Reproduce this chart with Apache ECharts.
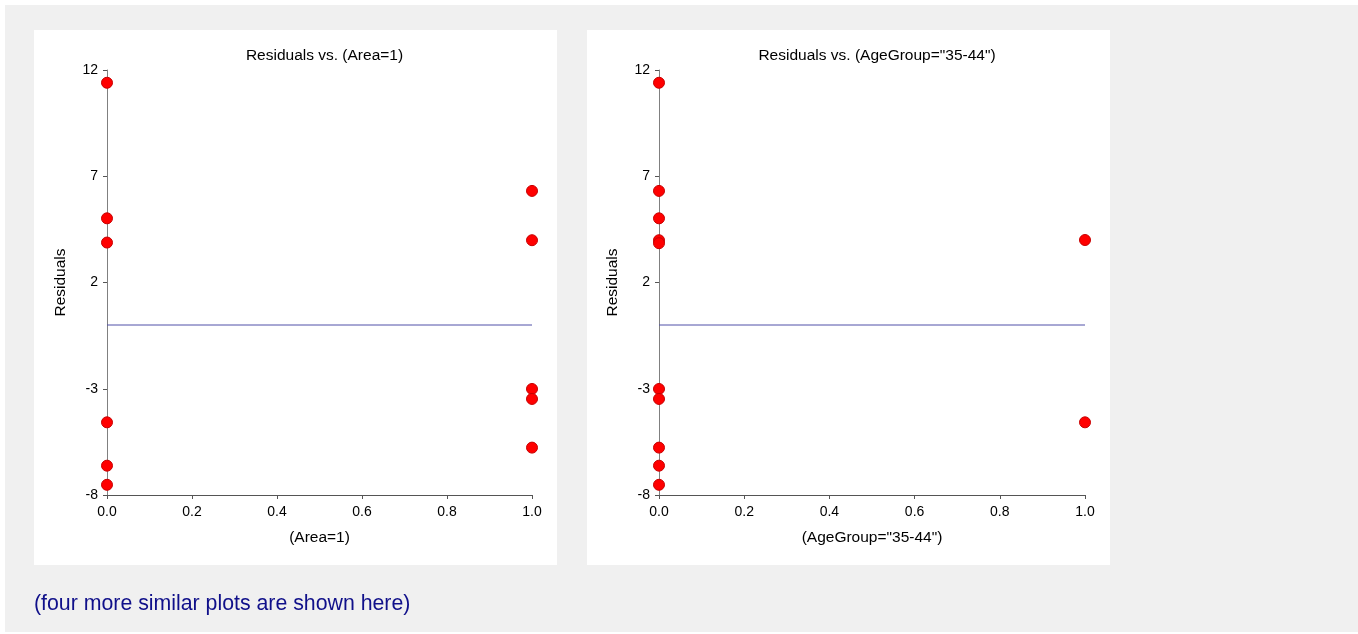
<!DOCTYPE html>
<html>
<head>
<meta charset="utf-8">
<script src="https://cdn.jsdelivr.net/npm/echarts@6/dist/echarts.min.js"></script>
<style>
html,body{margin:0;padding:0;background:#fff;}
#c{width:1358px;height:634px;}
</style>
</head>
<body>
<div id="c"></div>
<script>
// Data
var titles = ['Residuals vs. (Area=1)', 'Residuals vs. (AgeGroup="35-44")'];
var xNames = ['(Area=1)', '(AgeGroup="35-44")'];
var yTicks = [-8, -3, 2, 7, 12];
var area1X = [0, 0, 0, 0, 0, 0, 1, 1, 1, 1, 1];
var area1Y = [11.40, 5.02, 3.88, -4.58, -6.62, -7.52, 6.31, 3.99, -3.01, -3.48, -5.77];
var ageX = [0, 0, 0, 0, 0, 0, 0, 0, 0, 0, 1, 1];
var ageY = [11.40, 6.31, 5.02, 3.99, 3.85, -3.01, -3.48, -5.77, -6.62, -7.52, 4.00, -4.58];
var refX = [0, 1];
var refY = [0, 0];
var note = '(four more similar plots are shown here)';

function pairs(xs, ys){ return xs.map(function(x,i){return [x, ys[i]];}); }

var font = 'Liberation Sans, Arial, sans-serif';
var grids = [
  {left:107, top:70, width:425, height:425},
  {left:659, top:70, width:426, height:425}
];
var xAxes = [], yAxes = [], series = [], titleOpts = [];
var sets = [[area1X, area1Y], [ageX, ageY]];
for (var g = 0; g < 2; g++) {
  xAxes.push({
    type:'value', gridIndex:g, min:0, max:1, interval:0.2,
    name:xNames[g], nameLocation:'middle', nameGap:35,
    nameTextStyle:{color:'#000', fontSize:15.5, fontFamily:font},
    axisLine:{show:true, onZero:false, lineStyle:{color:'#555', width:1}},
    axisTick:{show:true, length:4, lineStyle:{color:'#555'}},
    axisLabel:{color:'#000', fontSize:14, fontFamily:font, margin:10, formatter:function(v){return v.toFixed(1);}},
    splitLine:{show:false}
  });
  yAxes.push({
    type:'value', gridIndex:g, min:-8, max:12,
    name:'Residuals', nameLocation:'middle', nameGap:38, nameRotate:90,
    nameTextStyle:{color:'#000', fontSize:15.5, fontFamily:font},
    axisLine:{show:true, onZero:false, lineStyle:{color:'#808080', width:1}},
    axisTick:{show:true, length:4, customValues:yTicks, lineStyle:{color:'#555'}},
    axisLabel:{color:'#000', fontSize:14, fontFamily:font, margin:9, customValues:yTicks},
    splitLine:{show:false}
  });
  series.push({
    type:'line', xAxisIndex:g, yAxisIndex:g, data:pairs(refX, refY),
    symbol:'none', lineStyle:{color:'#5050a8', width:1}, silent:true, z:1
  });
  series.push({
    type:'scatter', xAxisIndex:g, yAxisIndex:g, data:pairs(sets[g][0], sets[g][1]),
    symbol:'circle', symbolSize:11,
    itemStyle:{color:'#ff0000', borderColor:'#c80000', borderWidth:1, opacity:1},
    z:3
  });
  titleOpts.push({
    text:titles[g], left:grids[g].left + grids[g].width/2, top:43, textAlign:'center',
    textStyle:{color:'#000', fontSize:15.5, fontWeight:'normal', fontFamily:font}
  });
}

var chart = echarts.init(document.getElementById('c'), null, {renderer:'canvas'});
chart.setOption({
  backgroundColor:'#fff',
  animation:false,
  title:titleOpts,
  graphic:[
    {type:'rect', shape:{x:5, y:5, width:1353, height:627}, style:{fill:'#f0f0f0'}, z:-10, silent:true},
    {type:'rect', shape:{x:34, y:30, width:523, height:535}, style:{fill:'#fff'}, z:-9, silent:true},
    {type:'rect', shape:{x:587, y:30, width:523, height:535}, style:{fill:'#fff'}, z:-9, silent:true},
    {type:'text', left:34, top:594, style:{text:note, fill:'#10108a', font:'21.3px ' + font}, z:10, silent:true}
  ],
  grid:grids,
  xAxis:xAxes,
  yAxis:yAxes,
  series:series
});
</script>
</body>
</html>
